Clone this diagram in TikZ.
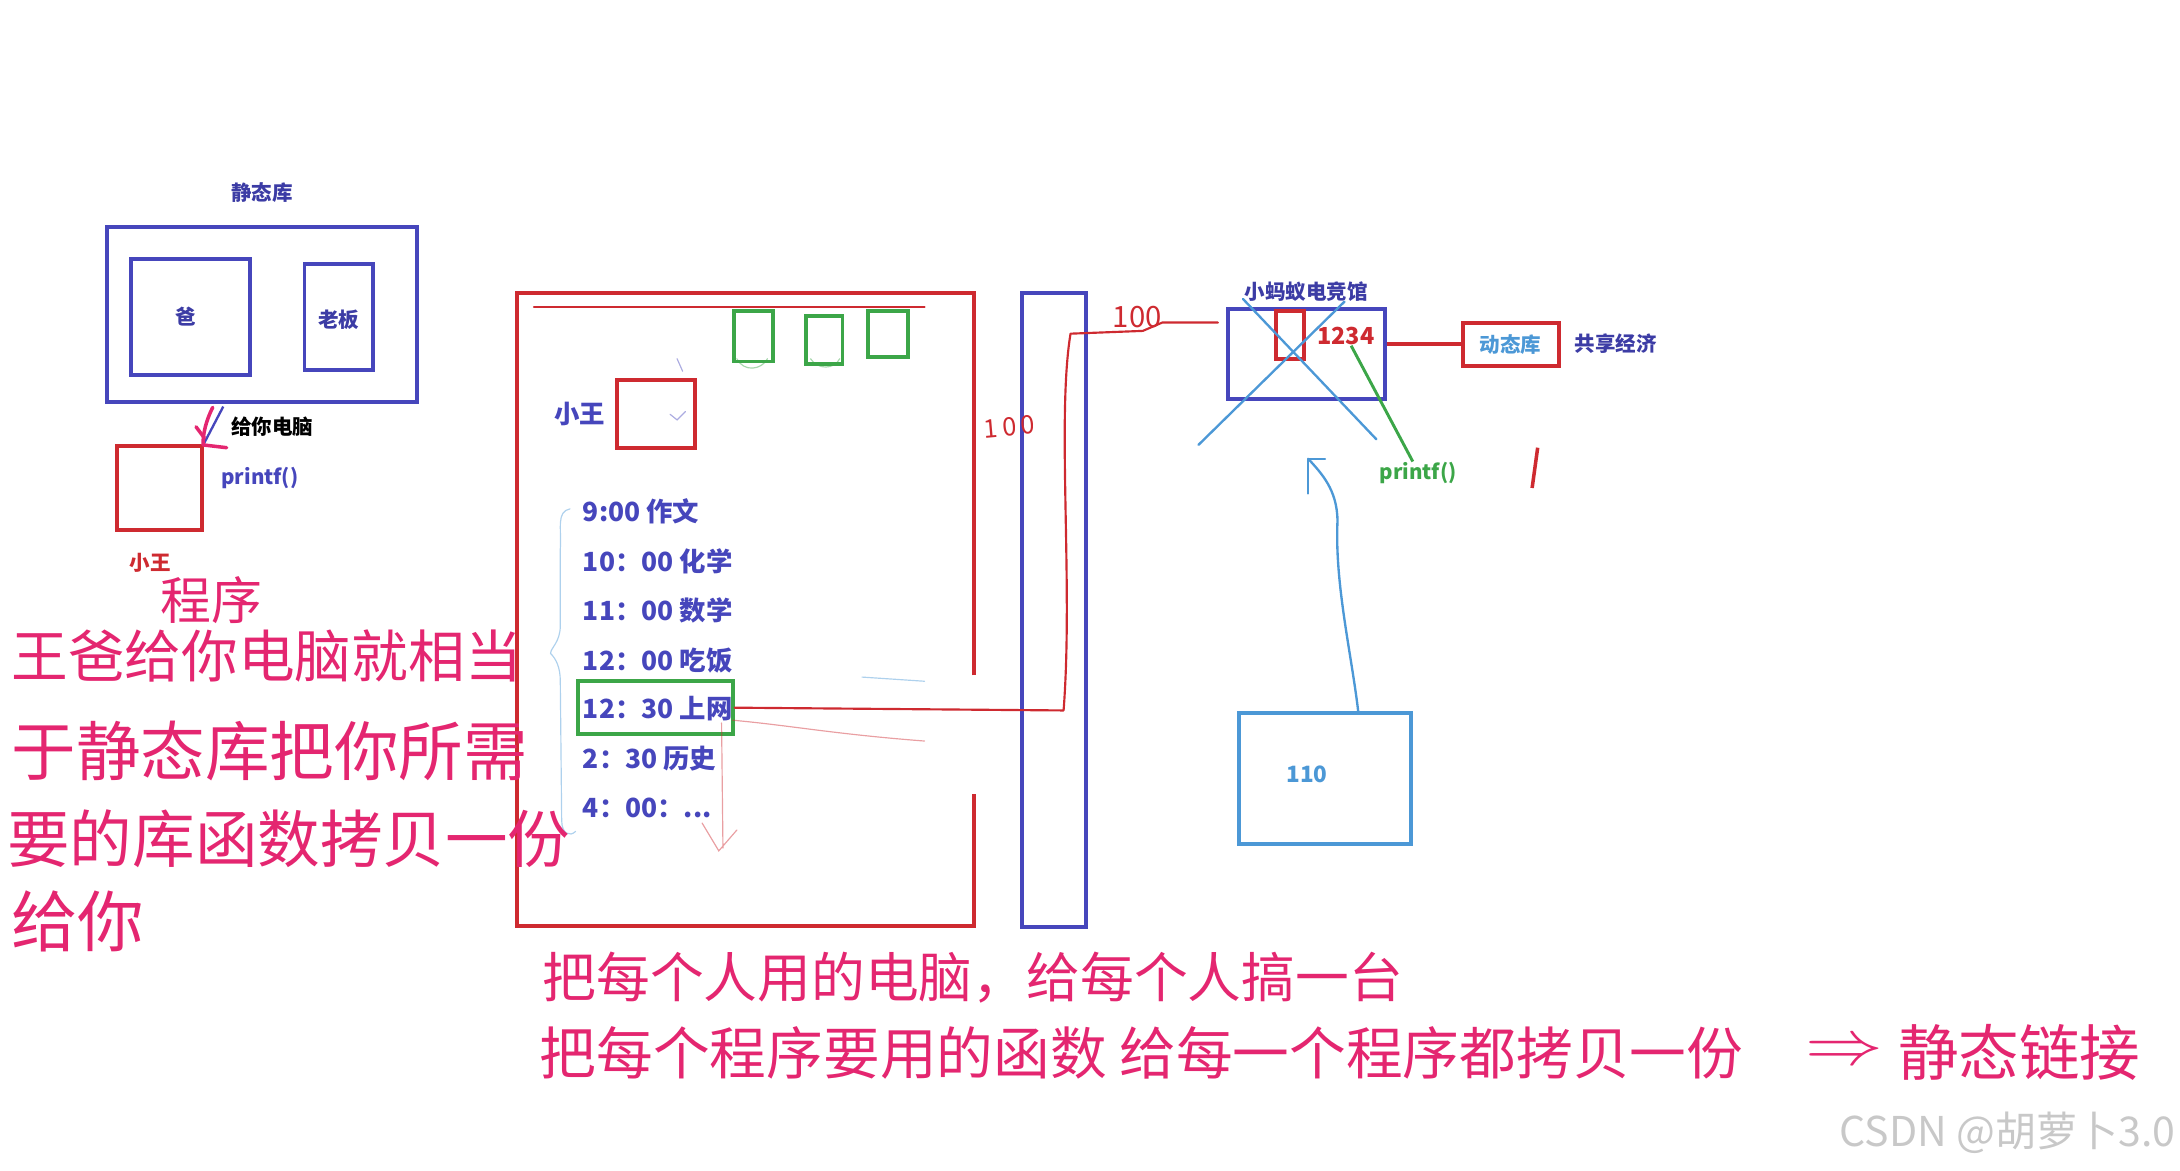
\documentclass[tikz,border=0pt]{standalone}
\usepackage{fontspec}
\setmainfont{Noto Sans CJK SC}
\usepackage{xcolor}
\usepackage{tikz}
\usetikzlibrary{positioning, calc, fit}
\definecolor{inkblue}{RGB}{70, 70, 188}
\definecolor{labelblue}{RGB}{60, 60, 165}
\definecolor{inkred}{RGB}{206, 42, 48}
\definecolor{inkgreen}{RGB}{60, 166, 72}
\definecolor{skyblue}{RGB}{76, 152, 214}
\definecolor{penpink}{RGB}{228, 38, 112}
\definecolor{markgray}{RGB}{200, 200, 200}
\tikzset{
  smalllabel/.style={font=\bfseries\fontsize{10.5}{12}\selectfont, inner sep=0pt},
  frameblock/.style={rectangle, line width=2pt, inner sep=0pt},
  blueblock/.style={frameblock, draw=inkblue},
  redblock/.style={frameblock, draw=inkred},
  greenblock/.style={frameblock, draw=inkgreen},
  skyblock/.style={frameblock, draw=skyblue},
  scheduleline/.style={anchor=west, inner sep=0pt, text=inkblue, font=\bfseries\fontsize{13.5}{15}\selectfont},
  handnote/.style={anchor=west, inner sep=0pt, text=penpink, font=\fontsize{30}{34}\selectfont},
  redpen/.style={draw=inkred, line width=1.1pt, line cap=round, line join=round},
  skypen/.style={draw=skyblue, line width=1.2pt, line cap=round, line join=round},
  greenpen/.style={draw=inkgreen, line width=1.5pt},
  pinkpen/.style={draw=penpink, line width=1.8pt, line cap=round, line join=round},
  faintpen/.style={line width=0.6pt, opacity=0.45, line cap=round}
}
\begin{document}
\begin{tikzpicture}[x=0.025cm, y=-0.025cm]
  \useasboundingbox (0,0) rectangle (1568,842);

  \node[blueblock, fit={(77,163) (300,289)}] (staticlib) {};
  \node[smalllabel, text=labelblue, above=0.39cm of staticlib] (staticlabel) {静态库};
  \node[blueblock, fit={(94,186) (180,270)}, label={[smalllabel, text=labelblue, xshift=-0.08cm]center:爸}] (dad) {};
  \node[blueblock, fit={(219,190) (268,266)}, label={[smalllabel, text=labelblue, yshift=-0.05cm]center:老板}] (boss) {};
  \node[redblock, fit={(84,321) (145,381)}] (wangpc) {};
  \node[smalllabel, anchor=west] (givepc) at (166,307) {给你电脑};
  \node[smalllabel, text=inkblue, anchor=west] (libprintf) at (159,344) {printf()};
  \node[smalllabel, text=inkred] (wanglabel) at (108,405) {小王};
  \draw[draw=inkblue, line width=1.2pt] ($(staticlib.south west)+(85,2)$) -- (wangpc.north east);
  \draw[pinkpen] (153,293) .. controls (148,303) and (146,312) .. (146,320) -- (163,322);
  \draw[pinkpen] (141,307) -- (147,315);

  \node[draw=none, fit={(372,211) (700,666)}, inner sep=0pt] (program) {};
  \draw[draw=inkred, line width=2pt] ($(program.north east)+(0,275)$) -- (program.north east) -- (program.north west) -- (program.south west) -- (program.south east) -- ($(program.south east)+(0,-95)$);
  \draw[redpen, line width=1pt] (384,221) -- (665,221);
  \node[greenblock, fit={(528,224) (556,260)}] (slota) {};
  \node[greenblock, fit={(580,227) (606,262)}] (slotb) {};
  \node[greenblock, fit={(624,224) (653,257)}] (slotc) {};
  \node[redblock, fit={(444,273) (500,322)}] (wangseat) {};
  \node[text=inkblue, font=\bfseries\fontsize{13}{15}\selectfont, inner sep=0pt, left=0.18cm of wangseat] (wanghead) {小王};
  \node[scheduleline] (s1) at (419,368) {9:00 作文};
  \node[scheduleline] (s2) at (419,404) {10：00 化学};
  \node[scheduleline] (s3) at (419,439) {11：00 数学};
  \node[scheduleline] (s4) at (419,475) {12：00 吃饭};
  \node[scheduleline] (s5) at (419,510) {12：30 上网};
  \node[scheduleline] (s6) at (419,546) {2：30 历史};
  \node[scheduleline] (s7) at (419,581) {4：00：...};
  \node[greenblock, fit={(416,490) (527,528)}] (surf) {};
  \draw[faintpen, skyblue] (410,366) .. controls (400,368) and (404,380) .. (403,395) -- (403,450) .. controls (403,462) and (396,466) .. (396,470) .. controls (400,474) and (403,480) .. (403,490) -- (404,590) .. controls (404,600) and (410,602) .. (414,598);
  \draw[faintpen, skyblue] (620,487) -- (665,490);
  \draw[faintpen, inkred] (527,518) .. controls (570,522) and (600,528) .. (665,533);
  \draw[faintpen, inkred] (519,520) -- (520,610) (505,592) -- (517,612) -- (530,597);
  \draw[faintpen, inkgreen] (530,258) .. controls (535,268) and (548,266) .. (552,258);
  \draw[faintpen, inkgreen] (583,258) .. controls (588,266) and (600,266) .. (604,258);
  \draw[faintpen, inkblue] (487,258) -- (491,267) (482,298) -- (487,302) -- (493,296);

  \node[blueblock, fit={(735,211) (781,667)}] (netbar) {};
  \node[text=inkred, font=\fontsize{13}{15}\selectfont, inner sep=0pt, rotate=5] (hundredleft) at (726,307) {1\,0\,0};

  \node[blueblock, fit={(883,222) (996,287)}] (cafe) {};
  \node[smalllabel, text=labelblue, above=0.08cm of cafe] (cafelabel) {小蚂蚁电竞馆};
  \node[redblock, fit={(918,224) (938,258)}] (cafeseat) {};
  \node[text=inkred, font=\bfseries\fontsize{12}{14}\selectfont, inner sep=0pt] (addr) at (968,242) {1234};
  \node[redblock, fit={(1052,232) (1121,263)}, label={[smalllabel, text=skyblue]center:动态库}] (dynlib) {};
  \node[smalllabel, text=labelblue, right=0.25cm of dynlib] (share) {共享经济};
  \node[smalllabel, text=inkgreen, anchor=west] (cafeprintf) at (992,340) {printf()};
  \node[text=inkred, font=\fontsize{15}{17}\selectfont, inner sep=0pt] (hundredtop) at (818,228) {100};
  \coordinate (wireend) at (876,232);
  \draw[redpen] (surf.east) -- (765,511) .. controls (772,420) and (760,300) .. (770,240) -- (822,238) -- (836,232) -- (wireend);
  \draw[skypen] (894,215) -- (990,316);
  \draw[skypen] (862,320) -- (967,217);
  \draw[greenpen] (addr.-60) -- (cafeprintf.115);
  \draw[draw=inkred, line width=2pt] (cafe.east |- dynlib.west) -- (dynlib.west);
  \draw[draw=inkred, line width=1.8pt] (1106,322) -- (1102,351);

  \node[skyblock, fit={(891,513) (1015,607)}] (home) {};
  \node[text=skyblue, font=\bfseries\fontsize{11.5}{13}\selectfont, inner sep=0pt] (homenum) at (940,557) {110};
  \coordinate (arrowtip) at (941,330);
  \draw[skypen] ([xshift=17]home.north) .. controls (972,470) and (960,420) .. (962,375) .. controls (962,352) and (950,340) .. (arrowtip);
  \draw[skypen] ($(arrowtip)+(12,0)$) -- (arrowtip) -- ($(arrowtip)+(0,25)$);

  \node[handnote, font=\fontsize{26}{30}\selectfont] (progword) at (115,432) {程序};
  \node[handnote, font=\fontsize{29}{33}\selectfont] (notea) at (8,472) {王爸给你电脑就相当};
  \node[handnote, font=\fontsize{33}{37}\selectfont] (noteb) at (8,540) {于静态库把你所需};
  \node[handnote, font=\fontsize{32}{36}\selectfont] (notec) at (5,603) {要的库函数拷贝一份};
  \node[handnote, font=\fontsize{34}{38}\selectfont] (noted) at (8,663) {给你};
  \node[handnote, font=\fontsize{27.5}{31}\selectfont] (bottoma) at (390,703) {把每个人用的电脑，给每个人搞一台};
  \node[handnote, font=\fontsize{29}{33}\selectfont] (bottomb) at (388,757) {把每个程序要用的函数 给每一个程序都拷贝一份};
  \node[handnote, font=\fontsize{31}{35}\selectfont] (linkarrow) at (1298,757) {\scalebox{1.6}[1.3]{$\Rightarrow$}};
  \node[handnote, font=\fontsize{31}{35}\selectfont] (staticlink) at (1365,757) {静态链接};

  \node[anchor=east, text=markgray, font=\fontsize{21}{24}\selectfont, inner sep=0pt] (watermark) at (1565,815) {CSDN @胡萝卜3.0};
\end{tikzpicture}
\end{document}
